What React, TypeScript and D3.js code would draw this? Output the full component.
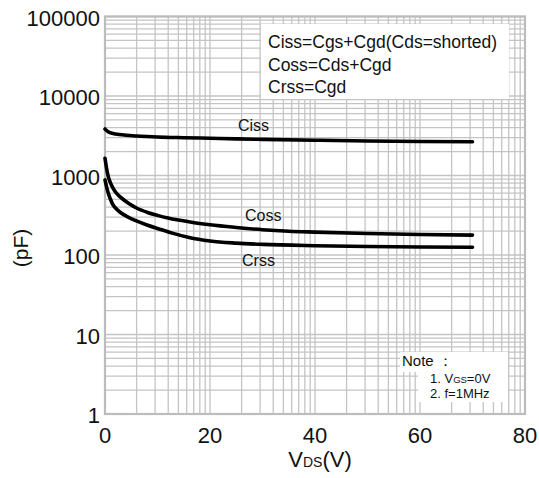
import React from "react";
import * as d3 from "d3";

const W = 539;
const H = 478;

const xTicks = [0, 20, 40, 60, 80];
const yTicks = [1, 10, 100, 1000, 10000, 100000];
const yTickLabels = ["1", "10", "100", "1000", "10000", "100000"];

const cissV = [0, 0.3, 0.6, 1, 2, 4, 6, 8, 10, 15, 20, 25, 30, 40, 50, 60, 70];
const cissC = [3850, 3680, 3550, 3450, 3330, 3210, 3140, 3090, 3050, 2990, 2940, 2890, 2850, 2780, 2720, 2680, 2660];

const cossV = [0, 0.3, 0.6, 1, 1.5, 2, 3, 4, 5, 6, 8, 10, 12, 14, 17, 20, 25, 30, 35, 40, 50, 60, 70];
const cossC = [1650, 1230, 980, 820, 700, 620, 530, 470, 425, 390, 345, 315, 292, 275, 255, 240, 222, 208, 199, 194, 186, 181, 178];

const crssV = [0, 0.3, 0.6, 1, 1.6, 2, 3, 4.4, 6, 8, 10.8, 13, 16, 20, 25, 30, 40, 50, 60, 70];
const crssC = [880, 720, 605, 510, 420, 390, 340, 300, 268, 238, 208, 187, 166, 150, 141, 136, 131, 128, 126, 125];

const legendLines = ["Ciss=Cgs+Cgd(Cds=shorted)", "Coss=Cds+Cgd", "Crss=Cgd"];

const FONT = "'Liberation Sans', Arial, Helvetica, sans-serif";

export default function App() {
  const left = 105, right = 525, top = 16.5, bottom = 414;
  const x = d3.scaleLinear().domain([0, 80]).range([left, right]);
  const y = d3.scaleLog().domain([1, 100000]).range([bottom, top]);

  // grid positions (log-style subdivisions within each 20 V span)
  const vGrid: number[] = [];
  for (let i = 0; i < 4; i++) {
    for (let k = 2; k <= 9; k++) vGrid.push(20 * i + 20 * Math.log10(k));
  }
  const hGrid: number[] = [];
  for (let d = 0; d < 5; d++) {
    for (let k = 2; k <= 9; k++) hGrid.push(k * Math.pow(10, d));
  }

  const line = d3
    .line<[number, number]>()
    .x((p) => x(p[0]))
    .y((p) => y(p[1]))
    .curve(d3.curveMonotoneX);

  const series = [
    { v: cissV, c: cissC },
    { v: cossV, c: cossC },
    { v: crssV, c: crssC },
  ];

  const gridColor = "#c4c4c4";

  return (
    <svg
      width={W}
      height={H}
      style={{ position: "absolute", left: 0, top: 0, background: "#fff" }}
      fontFamily={FONT}
    >
      <rect x={0} y={0} width={W} height={H} fill="#fff" />
      {/* grid */}
      <g stroke={gridColor} strokeWidth={1.3}>
        {vGrid.map((v, i) => (
          <line key={"v" + i} x1={x(v)} x2={x(v)} y1={top} y2={bottom} />
        ))}
        {xTicks.map((v, i) => (
          <line key={"vm" + i} x1={x(v)} x2={x(v)} y1={top} y2={bottom} />
        ))}
        {hGrid.map((v, i) => (
          <line key={"h" + i} x1={left} x2={right} y1={y(v)} y2={y(v)} />
        ))}
        {yTicks.map((v, i) => (
          <line key={"hm" + i} x1={left} x2={right} y1={y(v)} y2={y(v)} />
        ))}
      </g>
      <rect
        x={left}
        y={top}
        width={right - left}
        height={bottom - top}
        fill="none"
        stroke="#bcbcbc"
        strokeWidth={2.2}
      />

      {/* legend box */}
      <rect x={261} y={24} width={248} height={75} fill="#fff" />
      <g fontSize={17.5} fill="#111">
        {legendLines.map((t, i) => (
          <text key={i} x={268} y={48 + i * 22.5}>
            {t}
          </text>
        ))}
      </g>

      {/* note box */}
      <rect x={400} y={352} width={108} height={20} fill="#fff" />
      <rect x={418} y={370} width={90} height={32} fill="#fff" />
      <text x={402} y={366} fontSize={15} fill="#111">
        Note ：
      </text>
      <text x={430} y={383} fontSize={13} fill="#111">
        1. V<tspan fontSize={9.5}>GS</tspan>=0V
      </text>
      <text x={430} y={398} fontSize={13} fill="#111">
        2. f=1MHz
      </text>

      {/* curves */}
      <g fill="none" stroke="#000" strokeWidth={3.6} strokeLinecap="round" strokeLinejoin="round">
        {series.map((s, i) => (
          <path
            key={i}
            d={line(s.v.map((v, j) => [v, s.c[j]] as [number, number])) || ""}
          />
        ))}
      </g>

      {/* curve labels */}
      <g fontSize={16} fill="#111">
        <text x={238} y={131}>Ciss</text>
        <text x={245} y={221}>Coss</text>
        <text x={242} y={266}>Crss</text>
      </g>

      {/* y tick labels */}
      <g fontSize={22} fill="#111" textAnchor="end">
        {yTicks.map((v, i) => (
          <text key={i} x={100} y={y(v) + 9}>
            {yTickLabels[i]}
          </text>
        ))}
      </g>
      {/* x tick labels */}
      <g fontSize={22} fill="#111" textAnchor="middle">
        {xTicks.map((v, i) => (
          <text key={i} x={x(v)} y={443}>
            {v}
          </text>
        ))}
      </g>

      {/* axis titles */}
      <text x={320} y={467} fontSize={22} textAnchor="middle" fill="#111">
        V<tspan fontSize={14}>DS</tspan>(V)
      </text>
      <text
        transform="translate(28,248) rotate(-90)"
        fontSize={21}
        textAnchor="middle"
        fill="#111"
      >
        (pF)
      </text>
    </svg>
  );
}
